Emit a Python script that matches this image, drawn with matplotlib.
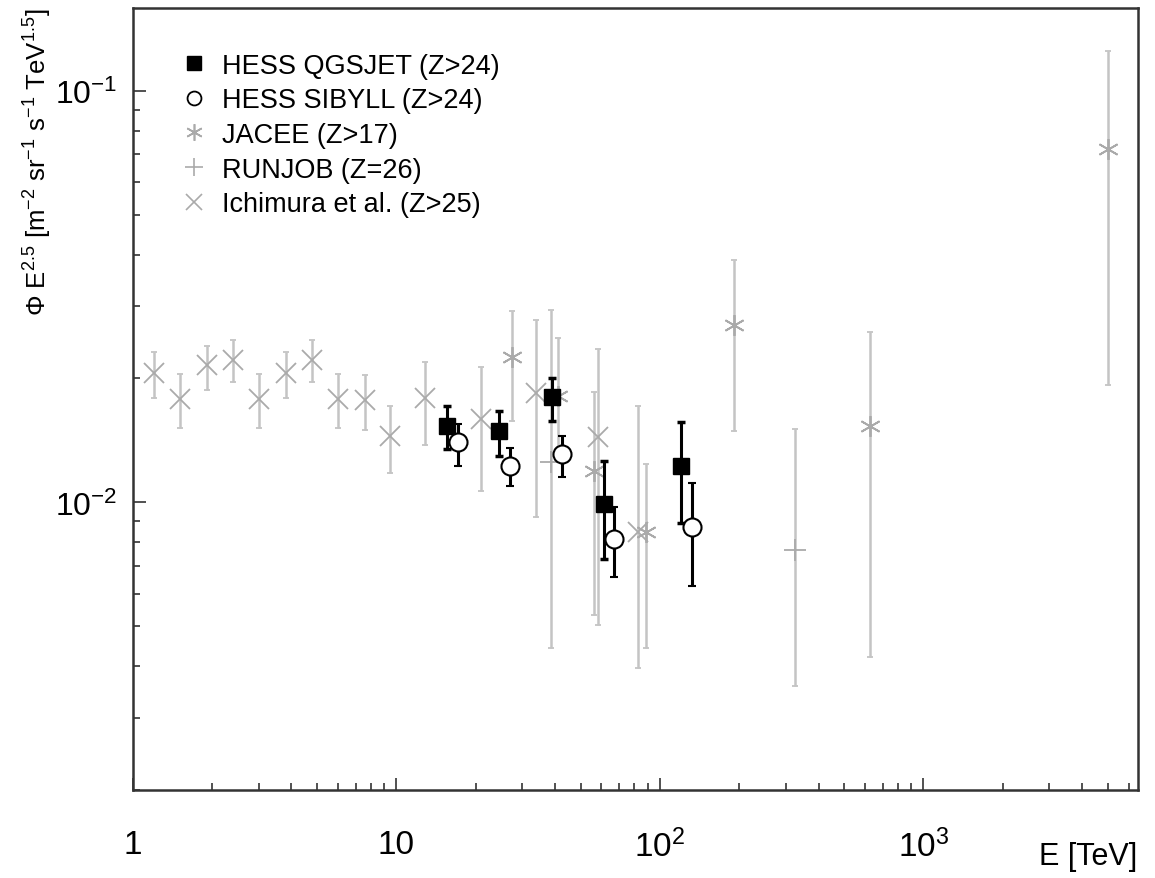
#!/usr/bin/env python3
"""Iron flux (E^2.5 weighted) vs energy: HESS points compared to balloon data."""

import numpy as np
import matplotlib
matplotlib.use("Agg")
import matplotlib.pyplot as plt
from matplotlib.lines import Line2D
from matplotlib.ticker import FixedLocator, FixedFormatter, NullFormatter

plt.rcParams['font.family'] = ['Liberation Sans', 'DejaVu Sans']
plt.rcParams['mathtext.fontset'] = 'custom'
plt.rcParams['mathtext.rm'] = 'Liberation Sans'
plt.rcParams['mathtext.it'] = 'Liberation Sans:italic'

# HESS QGSJET (Z>24)
qgs_e = [15.5, 24.5, 38.9, 61.3, 120.0]
qgs_f = [0.0153, 0.0149, 0.0180, 0.00989, 0.01225]
qgs_lo = [0.01346, 0.01294, 0.0158, 0.00727, 0.00889]
qgs_hi = [0.0171, 0.0167, 0.0200, 0.0126, 0.0157]

# HESS SIBYLL (Z>24)
sib_e = [17.1, 27.0, 42.5, 66.9, 132.0]
sib_f = [0.0140, 0.01225, 0.0131, 0.00813, 0.00869]
sib_lo = [0.01225, 0.01094, 0.01151, 0.00657, 0.00628]
sib_hi = [0.0155, 0.01353, 0.01448, 0.00973, 0.01112]

# JACEE (Z>17)
jac_e = [27.4, 41.0, 56.2, 88.5, 191.0, 627.0, 5012.0]
jac_f = [0.0225, 0.0181, 0.0119, 0.00845, 0.0270, 0.0153, 0.0723]
jac_lo = [0.0158, 0.0127, 0.00534, 0.00444, 0.0149, 0.00422, 0.0193]
jac_hi = [0.0292, 0.0251, 0.0185, 0.01237, 0.0388, 0.0259, 0.125]

# RUNJOB (Z=26)
run_e = [38.6, 325.0]
run_f = [0.0125, 0.00764]
run_lo = [0.00444, 0.00359]
run_hi = [0.0293, 0.0151]

# Ichimura et al. (Z>25)
ich_e = [1.20, 1.51, 1.91, 2.40, 3.01, 3.80, 4.78, 6.0, 7.6, 9.5, 12.8, 20.9, 33.8, 58.2, 82.5]
ich_f = [0.0206, 0.0178, 0.0216, 0.0222, 0.0178, 0.0206, 0.0222, 0.0178, 0.0177, 0.0145,
         0.0179, 0.0159, 0.0184, 0.0144, 0.00845]
ich_lo = [0.0179, 0.0152, 0.0187, 0.0196, 0.0152, 0.0179, 0.0196, 0.0152, 0.0150, 0.0118,
          0.0138, 0.01064, 0.0092, 0.00505, 0.00397]
ich_hi = [0.0232, 0.0205, 0.0240, 0.0248, 0.0205, 0.0232, 0.0248, 0.0205, 0.0204, 0.0171,
          0.0219, 0.0213, 0.0277, 0.0236, 0.0171]

x_ticks = [1, 10, 100, 1000]
x_labels = ['1', '10', '$10^{2}$', '$10^{3}$']
y_ticks = [0.01, 0.1]
y_labels = ['$10^{\\mathrm{-}2}$', '$10^{\\mathrm{-}1}$']

GRAY = '#c4c4c4'
GRAY_M = '#aaaaaa'


def yerr(f, lo, hi):
    f = np.asarray(f)
    return [f - np.asarray(lo), np.asarray(hi) - f]


def main():
    fig = plt.figure(figsize=(11.55, 8.79), dpi=100)
    ax = fig.add_axes([0.115, 0.100, 0.870, 0.890])

    gray_kw = dict(ls='none', ecolor=GRAY, elinewidth=1.8, capsize=2.5, capthick=1.5,
                   mec=GRAY_M, mfc=GRAY_M, zorder=2)
    ax.errorbar(ich_e, ich_f, yerr=yerr(ich_f, ich_lo, ich_hi), marker='x', ms=14, mew=1.3, **gray_kw)
    ax.errorbar(jac_e, jac_f, yerr=yerr(jac_f, jac_lo, jac_hi), marker=(6, 2, 0), ms=15, mew=1.3, **gray_kw)
    ax.errorbar(run_e, run_f, yerr=yerr(run_f, run_lo, run_hi), marker='+', ms=16, mew=1.3, **gray_kw)

    ax.errorbar(qgs_e, qgs_f, yerr=yerr(qgs_f, qgs_lo, qgs_hi), ls='none', marker='s', ms=12,
                mfc='black', mec='black', ecolor='black', elinewidth=2.2, capsize=3, capthick=2.5,
                zorder=4)
    ax.errorbar(sib_e, sib_f, yerr=yerr(sib_f, sib_lo, sib_hi), ls='none', marker='o', ms=13,
                mfc='white', mec='black', mew=1.5, ecolor='black', elinewidth=2.2, capsize=3,
                capthick=2.5, zorder=5)

    ax.set_xscale('log')
    ax.set_yscale('log')
    ax.set_xlim(1, 6500)
    ax.set_ylim(0.002, 0.159)

    ax.xaxis.set_major_locator(FixedLocator(x_ticks))
    ax.xaxis.set_major_formatter(FixedFormatter(x_labels))
    ax.yaxis.set_major_locator(FixedLocator(y_ticks))
    ax.yaxis.set_major_formatter(FixedFormatter(y_labels))
    ax.xaxis.set_minor_formatter(NullFormatter())
    ax.yaxis.set_minor_formatter(NullFormatter())

    ax.tick_params(which='both', direction='in', top=False, right=False, width=1.2, color='#333333')
    ax.tick_params(which='major', length=9)
    ax.tick_params(which='minor', length=5)
    ax.tick_params(axis='x', which='major', pad=28, labelsize=24)
    ax.tick_params(axis='y', which='major', pad=11, labelsize=23)
    for sp in ax.spines.values():
        sp.set_linewidth(1.8)
        sp.set_color('#333333')

    ax.set_ylabel(r'$\Phi$ E$^{2.5}$ [m$^{\mathrm{-}2}$ sr$^{\mathrm{-}1}$ s$^{\mathrm{-}1}$ TeV$^{1.5}$]',
                  fontsize=18.5, loc='top')
    ax.yaxis.set_label_coords(-0.078, 1.0)
    ax.set_xlabel('E [TeV]', fontsize=22, loc='right')
    ax.xaxis.set_label_coords(1.0, -0.065)

    handles = [
        Line2D([], [], ls='none', marker='s', ms=10, color='black'),
        Line2D([], [], ls='none', marker='o', ms=10, mfc='white', mec='black', mew=1.3),
        Line2D([], [], ls='none', marker=(6, 2, 0), ms=12, color=GRAY_M, mew=1.2),
        Line2D([], [], ls='none', marker='+', ms=13, color=GRAY_M, mew=1.2),
        Line2D([], [], ls='none', marker='x', ms=11, color=GRAY_M, mew=1.2),
    ]
    names = ['HESS QGSJET (Z>24)', 'HESS SIBYLL (Z>24)', 'JACEE (Z>17)',
             'RUNJOB (Z=26)', 'Ichimura et al. (Z>25)']
    ax.legend(handles, names, loc='upper left', bbox_to_anchor=(0.023, 0.974), frameon=False,
              fontsize=19.5, handlelength=1.0, handletextpad=0.55, labelspacing=0.32)

    fig.savefig('out.png', dpi=100, facecolor='white')


if __name__ == "__main__":
    main()
